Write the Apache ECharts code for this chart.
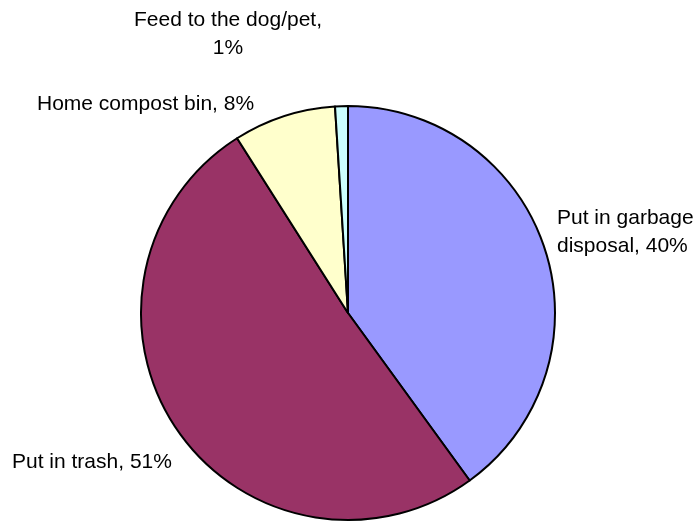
<!DOCTYPE html>
<html>
<head>
<meta charset="utf-8">
<script src="https://cdn.jsdelivr.net/npm/echarts@6/dist/echarts.min.js"></script>
<style>
  html, body { margin: 0; padding: 0; background: #ffffff; }
  #chart { width: 695px; height: 523px; }
</style>
</head>
<body>
<div id="chart"></div>
<script>
// Household food-scrap disposal shares (percent)
const categories = ['Put in garbage disposal', 'Put in trash', 'Home compost bin', 'Feed to the dog/pet'];
const shares = [40, 51, 8, 1];
const sliceColors = ['#9999FF', '#993366', '#FFFFCC', '#CCFFFF'];
// Label text before the percentage, with the line breaks used on the chart
const labelPrefixes = ['Put in garbage\ndisposal, ', 'Put in trash, ', 'Home compost bin, ', 'Feed to the dog/pet,\n'];
// Label anchor points and alignment
const labelAnchors = [
  { x: 557, y: 232, align: 'left' },
  { x: 12, y: 462, align: 'left' },
  { x: 37, y: 104, align: 'left' },
  { x: 228, y: 34, align: 'center' }
];

const chart = echarts.init(document.getElementById('chart'), null, { renderer: 'canvas' });

chart.setOption({
  animation: false,
  backgroundColor: '#ffffff',
  series: [{
    type: 'pie',
    center: [348, 313],
    radius: 207,
    startAngle: 90,
    clockwise: true,
    avoidLabelOverlap: false,
    itemStyle: { borderColor: '#000000', borderWidth: 2 },
    label: {
      show: true,
      position: 'outside',
      fontFamily: '"Liberation Sans Narrow", "Liberation Sans", Arial, sans-serif',
      fontSize: 21,
      lineHeight: 28,
      color: '#000000',
      formatter: p => labelPrefixes[p.dataIndex] + p.percent + '%'
    },
    labelLine: { show: false },
    labelLayout: p => {
      const a = labelAnchors[p.dataIndex];
      return { x: a.x, y: a.y, align: a.align, verticalAlign: 'middle' };
    },
    emphasis: { disabled: true },
    data: categories.map((name, i) => ({
      name,
      value: shares[i],
      itemStyle: { color: sliceColors[i] }
    }))
  }]
});
</script>
</body>
</html>
